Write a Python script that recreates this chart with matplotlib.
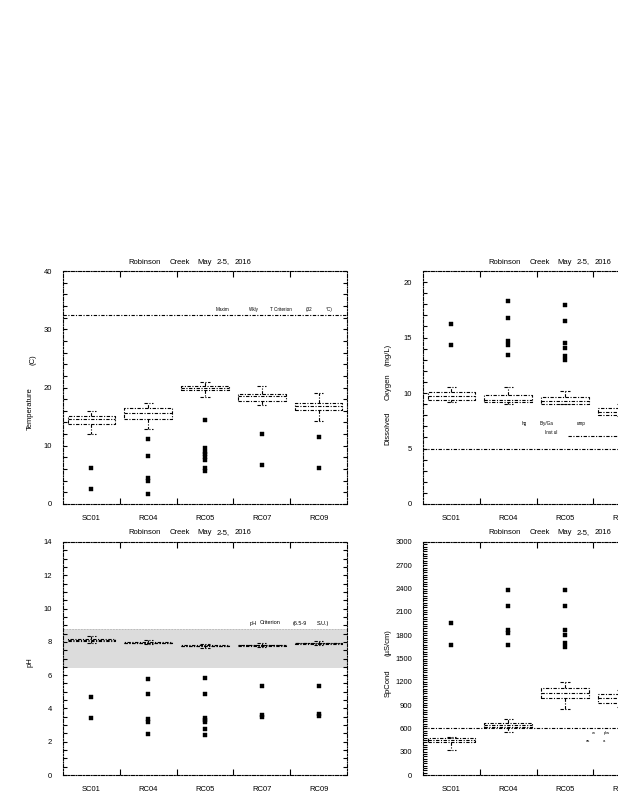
import matplotlib
matplotlib.use('Agg')
import matplotlib.pyplot as plt
from matplotlib import font_manager as fm
from matplotlib.ticker import MultipleLocator, FixedLocator

names = {f.name for f in fm.fontManager.ttflist}
FONT = 'Liberation Sans Narrow' if 'Liberation Sans Narrow' in names else 'Liberation Sans'
plt.rcParams['font.family'] = [FONT, 'DejaVu Sans']

# ---------------- data ----------------
sites = ['SC01', 'RC04', 'RC05', 'RC07', 'RC09']
title_words = ['Robinson', 'Creek', 'May', '2-5,', '2016']

temp_q1 = [13.7, 14.6, 19.5, 17.6, 16.2]
temp_med = [14.6, 15.6, 20.0, 18.5, 16.9]
temp_q3 = [15.1, 16.5, 20.3, 18.9, 17.3]
temp_lo = [12.1, 12.9, 18.4, 17.0, 14.3]
temp_hi = [16.0, 17.3, 21.0, 20.2, 19.0]
temp_out = [[6.2, 2.6], [11.1, 8.3, 4.5, 3.9, 1.7],
            [14.4, 9.6, 9.0, 8.5, 8.0, 7.5, 6.2, 5.6], [12.0, 6.7], [11.5, 6.2]]
temp_crit = 32.5

do_q1 = [9.34, 9.16, 9.04, 8.05]
do_med = [9.7, 9.4, 9.25, 8.25]
do_q3 = [10.06, 9.82, 9.6, 8.65]
do_lo = [9.16, 9.0, 9.0, 7.9]
do_hi = [10.57, 10.57, 10.15, 9.0]
do_out = [[16.25, 14.3], [18.3, 16.8, 14.65, 14.3, 13.4],
          [17.9, 16.5, 14.5, 14.05, 13.3, 13.0], []]
do_crit = 5.0
do_crit2 = 6.1

ph_q1 = [8.07, 7.93, 7.73, 7.77, 7.89]
ph_med = [8.12, 7.96, 7.76, 7.80, 7.92]
ph_q3 = [8.17, 7.99, 7.80, 7.84, 7.96]
ph_lo = [7.95, 7.85, 7.65, 7.70, 7.82]
ph_hi = [8.38, 8.10, 7.90, 7.92, 8.05]
ph_out = [[4.67, 3.4], [5.75, 4.87, 3.35, 3.2, 2.47],
          [5.82, 4.87, 3.45, 3.3, 3.2, 2.75, 2.4], [5.37, 3.6, 3.5], [5.37, 3.65, 3.55]]
ph_band = (6.4, 8.8)

sc_q1 = [430, 614, 988, 924]
sc_med = [451, 640, 1053, 988]
sc_q3 = [473, 675, 1117, 1044]
sc_lo = [322, 559, 851, 880]
sc_hi = [494, 718, 1195, 1100]
sc_out = [[1955, 1676], [2381, 2179, 1870, 1826, 1676],
          [2381, 2179, 1870, 1805, 1697, 1646], []]
sc_crit = 600

# ---------------- figure ----------------
W, H = 618, 800
fig = plt.figure(figsize=(W / 100, H / 100), dpi=100)

def px_axes(x0, y_top, w, h):
    return fig.add_axes([x0 / W, 1 - (y_top + h) / H, w / W, h / H])

LS = (0, (3, 1.4, 1, 1.4))
FS = 5.5

def panel(ax, q1, med, q3, lo, hi, out, ylim, major, minor):
    stats = []
    for i in range(len(q1)):
        stats.append(dict(q1=q1[i], med=med[i], q3=q3[i], whislo=lo[i],
                          whishi=hi[i], fliers=out[i]))
    pos = list(range(1, len(q1) + 1))
    lp = dict(color='black', linewidth=0.8, linestyle=LS)
    ax.bxp(stats, positions=pos, widths=0.84, capwidths=0.16,
           boxprops=lp, medianprops=lp, whiskerprops=lp, capprops=lp,
           flierprops=dict(marker='s', markersize=2.6, markerfacecolor='black',
                           markeredgecolor='black', markeredgewidth=0.3,
                           linestyle='none'),
           manage_ticks=False, zorder=3)
    ax.set_xlim(0.5, 5.5)
    ax.set_ylim(*ylim)
    ax.set_xticks(range(1, 6))
    ax.set_xticklabels(sites, fontsize=FS)
    ax.xaxis.set_minor_locator(FixedLocator([1.5, 2.5, 3.5, 4.5]))
    ax.tick_params(axis='x', which='major', length=0, pad=8)
    ax.tick_params(axis='x', which='minor', length=4, direction='in',
                   top=True, bottom=True, width=0.8)
    ax.yaxis.set_major_locator(MultipleLocator(major))
    ax.yaxis.set_minor_locator(MultipleLocator(minor))
    ax.tick_params(axis='y', which='both', direction='in', left=True,
                   right=True, length=3, width=0.8, labelsize=FS, pad=8)
    for s in ax.spines.values():
        s.set_linestyle(LS)
        s.set_linewidth(0.8)
    ax.set_facecolor('none')

def title(xl, y):
    offs = [65, 107, 134, 154, 172]
    for w, o in zip(title_words, offs):
        fig.text((xl + o) / W, 1 - y / H, w, fontsize=FS, ha='left', va='center')

def ftxt(x, y, s, fs=FS, rot=0, ha='center'):
    fig.text(x / W, 1 - y / H, s, fontsize=fs, rotation=rot, ha=ha, va='center')

AW, AH = 284, 233

# Temperature
ax1 = px_axes(63, 271, AW, AH)
panel(ax1, temp_q1, temp_med, temp_q3, temp_lo, temp_hi, temp_out, (0, 40), 10, 2)
ax1.axhline(temp_crit, color='black', linewidth=0.8, linestyle=LS, zorder=2)
title(63, 262)
ftxt(30, 409, 'Temperature', rot=90)
ftxt(33, 360, '(C)', rot=90)
for s, x in zip(['Maxim', 'Wkly', 'T Criterion', '(32', '\u00b0C)'], [223, 254, 281, 309, 329]):
    ftxt(x, 310, s, fs=3.3)

# Dissolved oxygen
ax2 = px_axes(423, 271, AW, AH)
panel(ax2, do_q1, do_med, do_q3, do_lo, do_hi, do_out, (0, 21), 5, 1)
ax2.axhline(do_crit, color='black', linewidth=0.8, linestyle=LS, zorder=2)
ax2.hlines(do_crit2, 3.05, 5.5, color='black', linewidth=0.8, linestyle=LS, zorder=2)
title(423, 262)
ftxt(388, 428, 'Dissolved', rot=90)
ftxt(388, 387, 'Oxygen', rot=90)
ftxt(388, 355, '(mg/L)', rot=90)
for s, x, y in [('hg', 524, 424), ('Bly/Ga', 547, 424), ('Inst ul', 551, 433), ('ump', 581, 424)]:
    ftxt(x, y, s, fs=3.3)

# pH
ax3 = px_axes(63, 542, AW, AH)
ax3.axhspan(ph_band[0], ph_band[1], color='#dcdcdc', zorder=0, linewidth=0)
ax3.axhline(ph_band[1], color='#b8b8b8', linewidth=0.6, linestyle=(0, (2, 1.5)), zorder=1)
panel(ax3, ph_q1, ph_med, ph_q3, ph_lo, ph_hi, ph_out, (0, 14), 2, 0.5)
title(63, 533)
ftxt(30, 662, 'pH', rot=90)
for s, x in zip(['pH', 'Criterion', '(6.5-9', 'S.U.)'], [253, 270, 300, 323]):
    ftxt(x, 623, s, fs=4)

# SpCond
ax4 = px_axes(423, 542, AW, AH)
panel(ax4, sc_q1, sc_med, sc_q3, sc_lo, sc_hi, sc_out, (0, 3000), 300, 30)
ax4.axhline(sc_crit, color='black', linewidth=0.8, linestyle=LS, zorder=2)
title(423, 533)
ftxt(388, 683, 'SpCond', rot=90)
ftxt(388, 643, '(\u00b5S/cm)', rot=90)
for s, x, y in [('w', 594, 733), ('plw', 607, 733), ('as', 588, 741), ('a', 604, 741)]:
    ftxt(x, y, s, fs=3.0)

fig.savefig('out.png', dpi=100)
